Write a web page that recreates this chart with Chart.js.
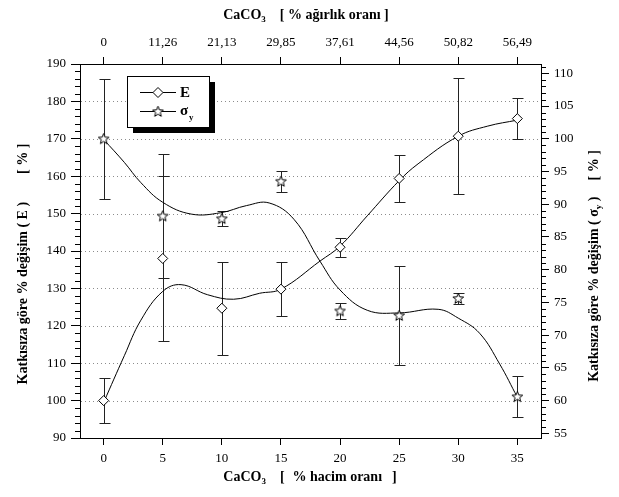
<!DOCTYPE html>
<html>
<head>
<meta charset="utf-8">
<script src="https://cdn.jsdelivr.net/npm/chart.js@4.4.1/dist/chart.umd.min.js"></script>
<style>
  html, body { margin: 0; padding: 0; background: #fff; }
  #wrap { width: 619px; height: 497px; }
</style>
</head>
<body>
<div id="wrap"><canvas id="chart" width="619" height="497"></canvas></div>
<script>
// x categories: % hacim (bottom) and % ağırlık (top)
const volumePct = [0, 5, 10, 15, 20, 25, 30, 35];
const weightPct = ['0', '11,26', '21,13', '29,85', '37,61', '44,56', '50,82', '56,49'];

// E (left axis) and sigma_y (right axis), with error bars
const eValues = [100, 138, 124.7, 129.8, 141, 159.4, 170.7, 175.4];
const eErrors = [6, 22, 12.4, 7.3, 2.5, 6.3, 15.5, 5.5];
const syValues = [100, 88.2, 87.8, 93.5, 73.7, 73.0, 75.6, 60.6];
const syErrors = [9.2, 9.5, 1.1, 1.6, 1.2, 7.5, 0.8, 3.1];

// fitted curves
const eFitX = [0, 1.75, 3.15, 5, 6.55, 8.8, 11, 13.2, 15, 18.3, 20, 22.3, 25, 26.6, 30, 32.5, 35];
const eFitY = [99.5, 112, 121.5, 129.2, 131, 128.3, 127.1, 128.7, 129.8, 137.3, 141.3, 149.4, 158.8, 163.3, 170.7, 173.4, 175];
const syFitX = [0, 1.75, 3.15, 5, 7.4, 9.9, 12.1, 14, 16.1, 18.3, 20, 22.3, 25, 28.3, 30, 31.8, 33.5, 35];
const syFitY = [99.9, 96.4, 93.3, 90.3, 88.5, 88.7, 89.8, 90.2, 87.7, 81.3, 76.9, 73.8, 73.4, 73.95, 72.6, 70.3, 65.6, 60.5];

const leftTicks = [90, 100, 110, 120, 130, 140, 150, 160, 170, 180, 190];
const rightTicks = [55, 60, 65, 70, 75, 80, 85, 90, 95, 100, 105, 110];

const SERIF = "'Liberation Serif', 'Times New Roman', serif";
const tickFont = { family: SERIF, size: 13 };
Chart.defaults.font.family = SERIF;
Chart.defaults.font.size = 13;
Chart.defaults.color = '#000';

function makeStar() {
    const c = document.createElement('canvas');
    c.width = 13; c.height = 13;
    const g = c.getContext('2d');
    g.beginPath();
    for (let i = 0; i < 10; i++) {
        const r = i % 2 === 0 ? 5.6 : 2.4;
        const a = -Math.PI / 2 + i * Math.PI / 5;
        const px = 6.5 + r * Math.cos(a), py = 6.8 + r * Math.sin(a);
        if (i === 0) g.moveTo(px, py); else g.lineTo(px, py);
    }
    g.closePath();
    g.fillStyle = '#fff';
    g.fill();
    g.strokeStyle = '#000';
    g.lineWidth = 1;
    g.stroke();
    return c;
}
const starImg = makeStar();

function drawRich(ctx, segs, x, y, rot) {
    const main = 'bold 14px ' + SERIF, sub = 'bold 9px ' + SERIF;
    let total = 0;
    segs.forEach(s => {
        if (s.gap) { s.w = s.gap; }
        else { ctx.font = s.sub ? sub : main; s.w = ctx.measureText(s.t).width; }
        total += s.w;
    });
    ctx.save();
    ctx.translate(x, y);
    ctx.rotate(rot || 0);
    ctx.textBaseline = 'middle';
    ctx.textAlign = 'left';
    ctx.fillStyle = '#000';
    let cx = -total / 2;
    segs.forEach(s => {
        if (!s.gap) {
            ctx.font = s.sub ? sub : main;
            ctx.fillText(s.t, cx, s.sub ? 5 : 0);
        }
        cx += s.w;
    });
    ctx.restore();
}

const errorBars = {
    id: 'errorBars',
    beforeDatasetsDraw(chart) {
        const ctx = chart.ctx, xs = chart.scales.x, yl = chart.scales.y, a = chart.chartArea;
        ctx.save();
        // dotted horizontal grid
        ctx.strokeStyle = '#8c8c8c';
        ctx.lineWidth = 1;
        ctx.setLineDash([1, 3]);
        ctx.beginPath();
        leftTicks.slice(1, -1).forEach(v => {
            const py = Math.round(yl.getPixelForValue(v)) + 0.5;
            ctx.moveTo(a.left + 1, py); ctx.lineTo(a.right, py);
        });
        ctx.stroke();
        ctx.setLineDash([]);

        ctx.strokeStyle = '#222';
        [[eValues, eErrors, yl], [syValues, syErrors, chart.scales.y1]].forEach(([vals, errs, ys]) => {
            vals.forEach((v, i) => {
                const px = Math.round(xs.getPixelForValue(volumePct[i])) + 0.5;
                const top = Math.round(ys.getPixelForValue(v + errs[i])) + 0.5;
                const bot = Math.round(ys.getPixelForValue(v - errs[i])) + 0.5;
                ctx.beginPath();
                ctx.moveTo(px, top); ctx.lineTo(px, bot);
                ctx.moveTo(px - 5, top); ctx.lineTo(px + 6, top);
                ctx.moveTo(px - 5, bot); ctx.lineTo(px + 6, bot);
                ctx.stroke();
            });
        });
        ctx.restore();
    }
};

const decorations = {
    id: 'decorations',
    afterDraw(chart) {
        const ctx = chart.ctx, a = chart.chartArea;
        const yl = chart.scales.y, yr = chart.scales.y1;
        ctx.save();
        ctx.strokeStyle = '#000';
        ctx.lineWidth = 1;
        ctx.beginPath();
        // minor ticks
        for (let v = 92; v < 190; v += 2) {
            if (v % 10 === 0) continue;
            const py = Math.round(yl.getPixelForValue(v)) + 0.5;
            ctx.moveTo(a.left - 5, py); ctx.lineTo(a.left, py);
        }
        for (let v = 55; v <= 111; v += 1) {
            if (v % 5 === 0) continue;
            const py = Math.round(yr.getPixelForValue(v)) + 0.5;
            ctx.moveTo(a.right, py); ctx.lineTo(a.right + 5, py);
        }
        ctx.stroke();

        // legend box with shadow
        ctx.fillStyle = '#000';
        ctx.fillRect(133, 82, 82, 51);
        ctx.fillStyle = '#fff';
        ctx.fillRect(127, 76, 82, 51);
        ctx.strokeRect(127.5, 76.5, 82, 51);
        ctx.beginPath();
        ctx.moveTo(140, 92.5); ctx.lineTo(176, 92.5);
        ctx.moveTo(140, 111.5); ctx.lineTo(176, 111.5);
        ctx.stroke();
        ctx.beginPath();
        ctx.moveTo(158, 87.5); ctx.lineTo(163, 92.5); ctx.lineTo(158, 97.5); ctx.lineTo(153, 92.5);
        ctx.closePath();
        ctx.fill();
        ctx.stroke();
        ctx.drawImage(starImg, 158 - 6.5, 111.5 - 6.5);
        ctx.fillStyle = '#000';
        ctx.textBaseline = 'middle';
        ctx.textAlign = 'left';
        ctx.font = 'bold 15px ' + SERIF;
        ctx.fillText('E', 180, 93);
        ctx.fillText('σ', 180, 111);
        ctx.font = 'bold 9px ' + SERIF;
        ctx.fillText('y', 189, 118);
        ctx.restore();

        // axis titles
        drawRich(ctx, [{ t: 'CaCO' }, { t: '3', sub: true }, { gap: 14 }, { t: '[' }, { gap: 8 }, { t: '% hacim oranı' }, { gap: 10 }, { t: ']' }], 310, 477, 0);
        drawRich(ctx, [{ t: 'CaCO' }, { t: '3', sub: true }, { gap: 14 }, { t: '[ % ağırlık oranı ]' }], 306, 15, 0);
        drawRich(ctx, [{ t: 'Katkısıza göre % değişim ( E )' }, { gap: 28 }, { t: '[ % ]' }], 23, 264, -Math.PI / 2);
        drawRich(ctx, [{ t: 'Katkısıza göre % değişim ( σ' }, { t: 'y', sub: true }, { t: ' )' }, { gap: 16 }, { t: '[ % ]' }], 594, 266, -Math.PI / 2);
    }
};

const ctx = document.getElementById('chart').getContext('2d');
new Chart(ctx, {
    type: 'scatter',
    data: {
        datasets: [{
            label: 'E',
            data: volumePct.map((x, i) => ({ x: x, y: eValues[i] })),
            yAxisID: 'y',
            showLine: false,
            pointStyle: 'rectRot',
            pointRadius: 5,
            pointBackgroundColor: '#fff',
            pointBorderColor: '#000',
            pointBorderWidth: 1
        }, {
            label: 'σy',
            data: volumePct.map((x, i) => ({ x: x, y: syValues[i] })),
            yAxisID: 'y1',
            showLine: false,
            pointStyle: starImg,
            pointRadius: 6
        }, {
            label: 'E fit',
            data: eFitX.map((x, i) => ({ x: x, y: eFitY[i] })),
            yAxisID: 'y',
            showLine: true,
            borderColor: '#000',
            borderWidth: 1,
            tension: 0.4,
            pointRadius: 0
        }, {
            label: 'σy fit',
            data: syFitX.map((x, i) => ({ x: x, y: syFitY[i] })),
            yAxisID: 'y1',
            showLine: true,
            borderColor: '#000',
            borderWidth: 1,
            tension: 0.4,
            pointRadius: 0
        }]
    },
    options: {
        responsive: false,
        animation: false,
        layout: { padding: 0 },
        plugins: { legend: { display: false }, tooltip: { enabled: false } },
        scales: {
            x: {
                type: 'linear', position: 'bottom', min: -2, max: 37,
                afterBuildTicks: s => { s.ticks = volumePct.map(v => ({ value: v })); },
                afterFit: s => { s.height = 59; },
                grid: { drawOnChartArea: false, tickLength: 7, tickColor: '#000' },
                border: { color: '#000' },
                ticks: { font: tickFont, padding: 6, maxRotation: 0, autoSkip: false }
            },
            x2: {
                type: 'linear', position: 'top', min: -2, max: 37,
                afterBuildTicks: s => { s.ticks = volumePct.map(v => ({ value: v })); },
                afterFit: s => { s.height = 64; },
                grid: { drawOnChartArea: false, tickLength: 7, tickColor: '#000' },
                border: { color: '#000' },
                ticks: { font: tickFont, padding: 7, maxRotation: 0, autoSkip: false,
                    callback: v => weightPct[volumePct.indexOf(v)] }
            },
            y: {
                type: 'linear', position: 'left', min: 90, max: 190,
                afterBuildTicks: s => { s.ticks = leftTicks.map(v => ({ value: v })); },
                afterFit: s => { s.width = 80; },
                grid: { drawOnChartArea: false, tickColor: '#000', tickLength: 9 },
                border: { color: '#000' },
                ticks: { font: tickFont, padding: 5, autoSkip: false }
            },
            y1: {
                type: 'linear', position: 'right', min: 54.2857, max: 111.4286,
                afterBuildTicks: s => { s.ticks = rightTicks.map(v => ({ value: v })); },
                afterFit: s => { s.width = 78; },
                grid: { drawOnChartArea: false, tickColor: '#000', tickLength: 8 },
                border: { color: '#000' },
                ticks: { font: tickFont, padding: 5, autoSkip: false }
            }
        }
    },
    plugins: [errorBars, decorations]
});
</script>
</body>
</html>
